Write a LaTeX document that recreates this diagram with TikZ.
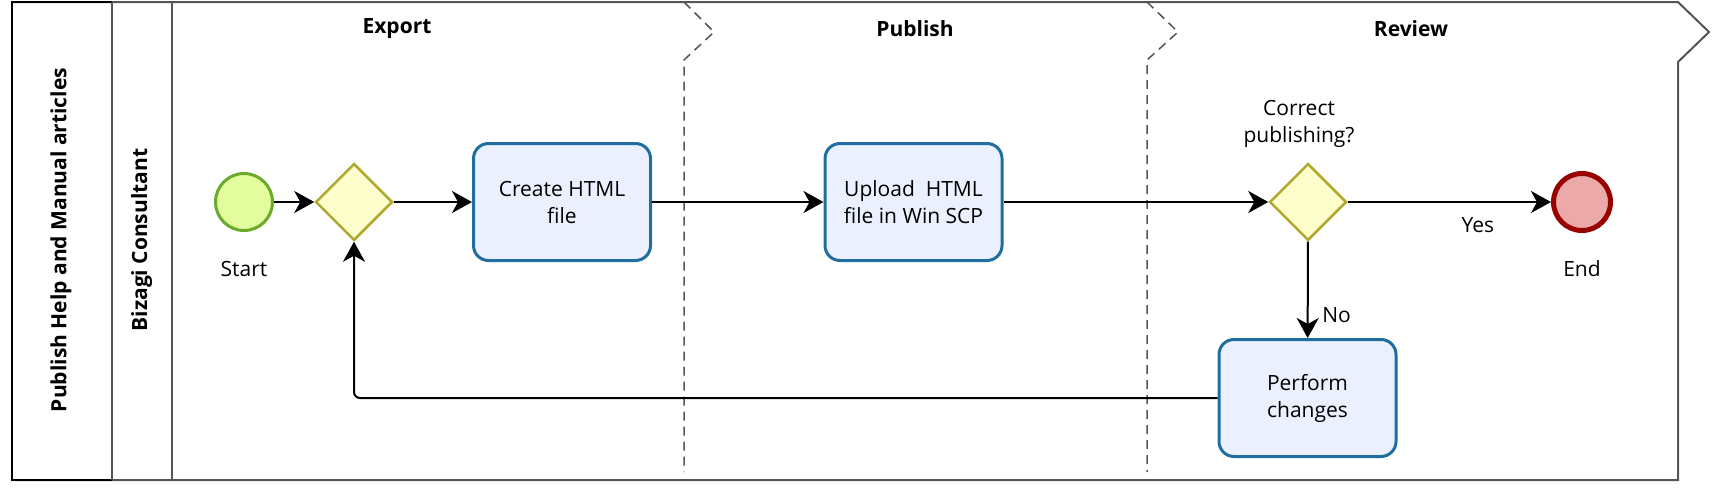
\documentclass[tikz,border=0pt]{standalone}
\usepackage{fontspec}
\setmainfont{Open Sans}
\usetikzlibrary{shapes.geometric,positioning,arrows.meta}
\definecolor{taskfill}{HTML}{EBF0FE}
\definecolor{taskline}{HTML}{1F6E9E}
\definecolor{gwfill}{HTML}{FEFECC}
\definecolor{gwline}{HTML}{B0A930}
\definecolor{startfill}{HTML}{E2FC9E}
\definecolor{startline}{HTML}{6AAB2B}
\definecolor{endfill}{HTML}{EBA9A9}
\definecolor{endline}{HTML}{990000}
\definecolor{laneline}{HTML}{555555}
\tikzset{
  task/.style={draw=taskline, fill=taskfill, line width=1.5pt, rounded corners=7.5pt,
    minimum width=88.5pt, minimum height=58.5pt, align=center, font=\fontsize{10.5}{13.5}\selectfont},
  gateway/.style={diamond, draw=gwline, fill=gwfill, line width=1.25pt,
    minimum width=38.5pt, minimum height=38.5pt, inner sep=0pt},
  startev/.style={circle, draw=startline, fill=startfill, line width=1.5pt, minimum size=28.5pt, inner sep=0pt},
  endev/.style={circle, draw=endline, fill=endfill, line width=2.5pt, minimum size=28.5pt, inner sep=0pt},
  lbl/.style={font=\fontsize{10.5}{13.5}\selectfont, align=center},
  hdr/.style={font=\bfseries\fontsize{10.5}{13.5}\selectfont},
  flow/.style={-{Stealth[length=10pt,width=11pt,inset=3pt]}, line width=1pt},
  phase/.style={draw=laneline, line width=0.75pt, dash pattern=on 4.5pt off 3pt},
}

\begin{document}
\begin{tikzpicture}[x=0.5pt,y=-0.5pt]
         \useasboundingbox (0,0) rectangle (1735,503);
         \draw [laneline, line width=1pt] (12,2) -- (1678,2) -- (1709,32) -- (1678,62) -- (1678,480) -- (12,480);
         \draw [line width=1.25pt] (111.7,2) -- (12,2) -- (12,480) -- (111.7,480);
         \draw [laneline, line width=1pt] (111.7,2) -- (111.7,480);
         \draw [laneline, line width=1pt] (171.7,2) -- (171.7,480);
         \draw [phase] (684,2) -- (714,32) -- (684,60) -- (684,472);
         \draw [phase] (1147,2) -- (1178,32) -- (1147,60) -- (1147,472);
         \node [hdr, rotate=90] (Pool) at (61,240) {Publish Help and Manual articles};
         \node [hdr, rotate=90] (Lane) at (141.7,240) {Bizagi Consultant};
         \node [hdr] (HExport)  at (397,29) {Export};
         \node [hdr] (HPublish) at (915,29) {Publish};
         \node [hdr] (HReview)  at (1411,29) {Review};
         \node [startev] (Start) at (244,202) {};
         \node [lbl] (StartL) at (244,269) {Start};
         \node [gateway] (GW) at (354,202) {};
         \node [task] (Create) at (562,202) {Create HTML\\file};
         \node [task] (Upload) at (913.5,202) {Upload\ \ HTML\\file in Win SCP};
         \node [gateway] (GW2) at (1308,202) {};
         \node [lbl] (GW2L) at (1299,124) {Correct\\publishing?};
         \node [endev] (End) at (1582,202) {};
         \node [lbl] (EndL) at (1582,269) {End};
         \node [task] (Perform) at (1307.5,398) {Perform\\changes};
         \draw [flow] (Start) -- (GW);
         \draw [flow] (GW) -- (Create);
         \draw [flow] (Create) -- (Upload);
         \draw [flow] (Upload) -- (GW2);
         \draw [flow] (GW2) -- node [lbl, pos=0.64, below=4pt] {Yes} (End);
         \draw [flow] (GW2) -- node [lbl, pos=0.76, right=3.5pt] {No} (Perform);
         \draw [flow, rounded corners=3pt] (Perform.west) -| (GW.south);
\end{tikzpicture}
\end{document}
